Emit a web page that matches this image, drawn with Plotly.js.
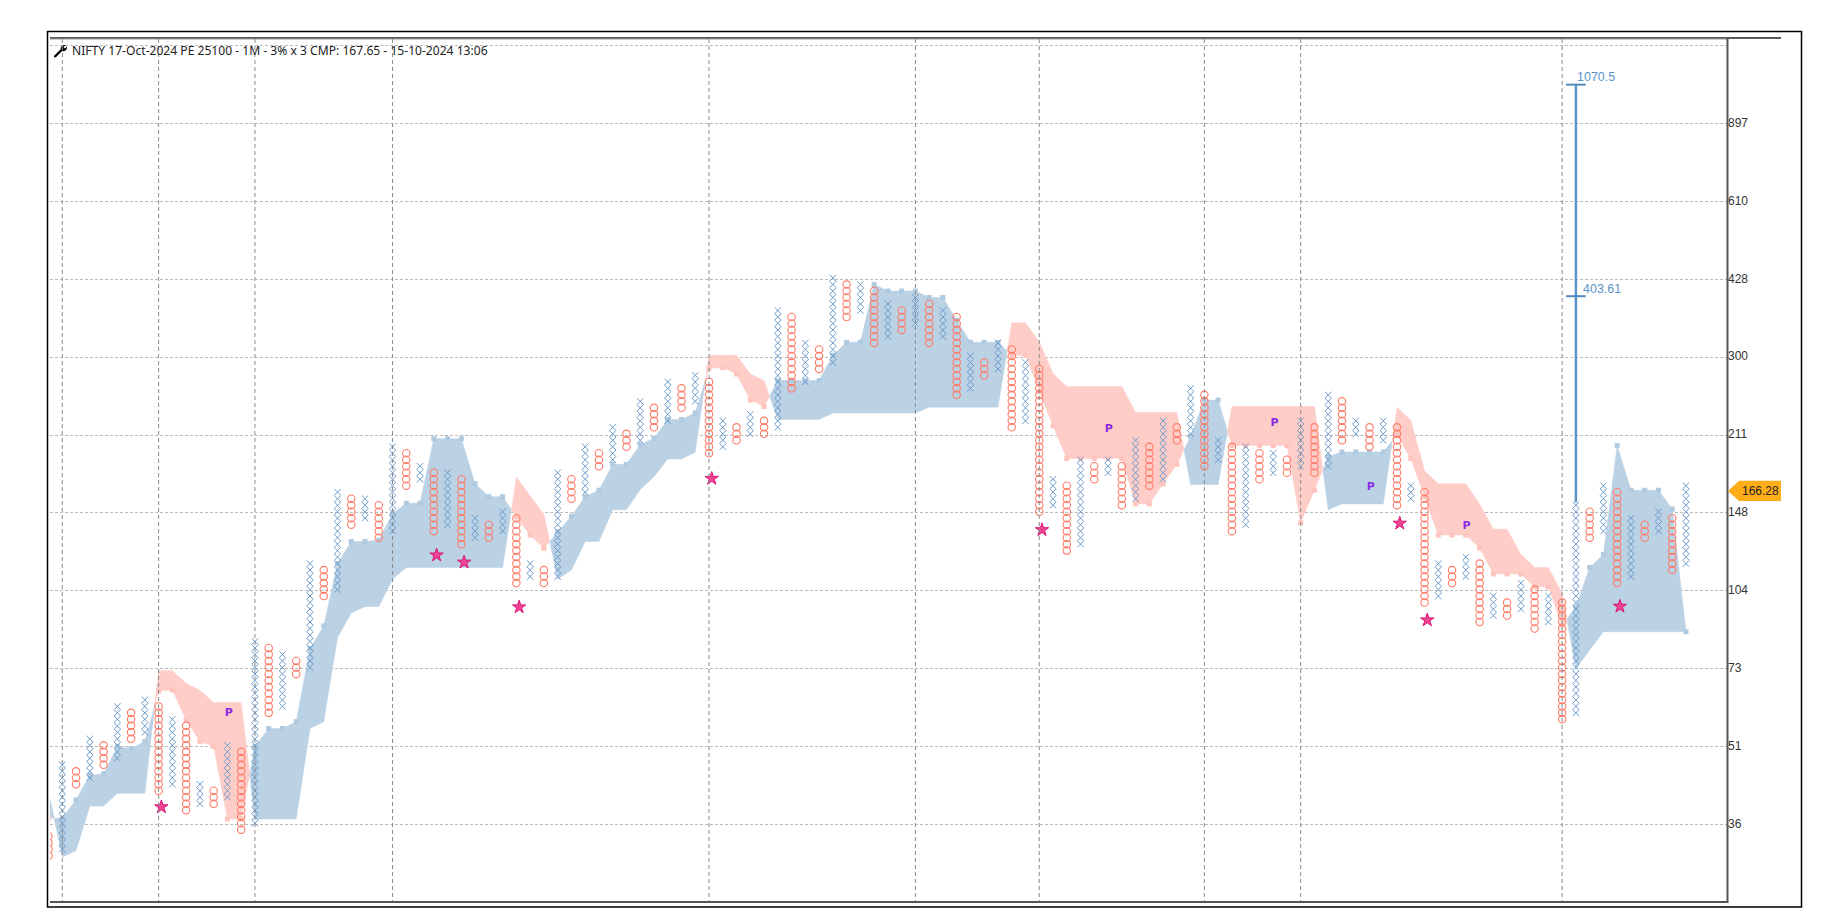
<!DOCTYPE html>
<html><head><meta charset="utf-8"><script src="https://cdn.plot.ly/plotly-3.0.1.min.js"></script>
<style>html,body{margin:0;padding:0;background:#fff}#c{width:1827px;height:921px}</style></head>
<body><div id="c"></div><script>
const titleText='NIFTY 17-Oct-2024 PE 25100 - 1M - 3% x 3 CMP: 167.65 - 15-10-2024 13:06';
const firstCol=-1;
const colLow=[-5,-4,6,7,9,10,13,14,5,6,2,3,3,4,-1,0,17,18,23,24,35,36,46,47,44,45,52,53,45,46,43,44,44,45,37,38,37,38,50,51,55,56,58,59,61,62,64,65,57,58,59,60,60,61,67,68,70,71,78,79,74,75,76,77,74,75,66,67,69,70,61,62,48,49,42,43,53,54,49,50,52,53,59,60,55,56,45,46,53,54,54,55,54,55,59,60,58,59,49,50,34,35,37,38,31,32,32,33,30,31,16,17,44,45,37,38,44,45,39,40];
const colHigh=[-2,9,8,13,12,18,17,19,18,16,15,6,5,12,11,28,27,26,25,40,39,51,50,50,49,58,57,55,54,54,53,47,46,48,47,40,39,54,53,58,57,61,60,65,64,68,67,69,68,62,61,63,62,79,78,74,73,84,83,83,82,80,79,81,80,79,78,72,71,74,73,71,70,53,52,56,55,56,55,59,58,62,61,67,66,59,58,58,57,57,56,62,61,66,65,62,61,62,61,52,51,40,39,41,40,35,34,37,36,35,34,49,48,52,51,47,46,48,47,52];
const bandA=[0.8,0.75,3.6,7.4,7.6,11.8,11.5,12.6,20.4,20.5,15.9,12.6,11.8,0.65,0.65,11.8,14.6,14.6,15.65,26.9,30.4,40,43.4,43.4,43.6,47.7,49.3,49.3,59.25,59.25,59.25,52.3,50.3,50.3,47.2,44.4,42.35,44.9,47.3,50.3,51.3,55.3,55.3,58.3,59.3,62.2,62.2,63.2,70.1,70.2,69.2,65.2,64.2,68.2,68.2,68.2,68.2,72.1,74.1,74.1,83,82,82,82,81,81,77.5,74.1,74.1,74.1,72.1,72.1,66.5,61.2,56.2,56.2,56.2,56.2,56.2,49.2,49.2,52.3,55.3,59.6,65.2,65.2,58.2,58.2,58.2,58.2,58.2,46.3,51.3,56.5,57.2,57.2,57.2,57.2,59.8,56.2,50.3,44.4,44.4,44.4,42.4,38.4,38.4,38.4,36.4,36.4,30.5,33.3,39.4,41.4,58.2,51.3,51.3,51.3,48.4,29.5];
const bandB=[4.9,-5.25,-4.2,2.65,2.65,4.6,4.6,4.6,23.5,23.5,21.55,20.5,18.6,18.6,18.6,0.65,0.65,0.65,0.65,14.6,15.65,28.6,32.4,33.4,33.4,37.6,39.4,39.4,39.4,39.4,39.4,39.4,39.4,39.4,53.3,50.4,47.6,37.6,39,43.4,43.4,48.3,48.3,51.4,53.4,56.1,56.1,57.2,72.1,72.1,72.1,69.2,68.2,62.2,62.2,62.2,62.2,63.2,63.2,63.2,63.2,63.2,63.2,63.2,64.1,64.1,64.1,64.1,64.1,64.1,77.1,77.1,74.2,69.3,67.3,67.3,67.3,67.3,67.3,63.3,63.3,63.3,63.3,52.2,52.2,52.2,64.2,64.2,64.2,64.2,64.2,64.2,64.2,48.3,49.2,49.2,49.2,49.2,64.1,62.1,54.3,52.3,52.3,52.3,49.2,45.3,45.3,41.4,39.4,39.4,35.4,23.8,26.7,29.5,29.5,29.5,29.5,29.5,29.5,29.5];
const starCols=[7.2,27.2,29.2,33.2,47.2,71.2,97.2,99.2,113.2];
const starRows=[2.5,41.3,40.2,33.3,53.1,45.2,46.2,31.3,33.4];
const pCols=[12.1,76.05,88.1,95.1,102.05];
const pRows=[16.9,60.7,61.7,51.8,45.8];
const tickRows=[-0.2,11.8,23.8,35.8,47.8,59.8,71.8,83.8,95.8,107.8,119.8];
const tickLabels=['36','51','73','104','148','211','300','428','610','897',''];
const dateCols=[0,7,14,24,47,62,71,83,90,109];
const measureCol=110, measureBaseRow=49.4;
const targetRows=[81.2,113.8], targetLabels=['403.61','1070.5'];
const cmpRow=51.2, cmpLabel='166.28';

const L=50,R=1727,T=39,B=901;
const px=x=>(x-L)/(R-L), py=y=>1-(y-T)/(B-T);
const BLUE='rgb(187,209,228)',PINK='rgb(255,205,200)';

// expand columns to boxes
const xX=[],xY=[],oX=[],oY=[];
colLow.forEach((lo,i)=>{const c=firstCol+i,isO=(c%2!==0);
  for(let r=lo;r<=colHigh[i];r++){(isO?oX:xX).push(c);(isO?oY:xY).push(r);}});

// cloud polygons split where the two spans cross
const isUp=i=>bandA[i]>=bandB[i];
const runs=[];let cur={x:[firstCol],a:[bandA[0]],b:[bandB[0]],up:isUp(0)};
for(let i=1;i<bandA.length;i++){const c=firstCol+i,up=isUp(i);
  if(up!==cur.up){const d0=bandA[i-1]-bandB[i-1],d1=bandA[i]-bandB[i],t=d0/(d0-d1);
    const cx=c-1+t,cy=bandA[i-1]+t*(bandA[i]-bandA[i-1]);
    cur.x.push(cx);cur.a.push(cy);cur.b.push(cy);runs.push(cur);
    cur={x:[cx],a:[cy],b:[cy],up:up};}
  cur.x.push(c);cur.a.push(bandA[i]);cur.b.push(bandB[i]);}
runs.push(cur);
runs[0].up=true;
const poly={true:{x:[],y:[]},false:{x:[],y:[]}};
runs.forEach(r=>{const p=poly[r.up];
  p.x.push(...r.x,...r.x.slice().reverse(),null);
  p.y.push(...r.a,...r.b.slice().reverse(),null);});
const sqB={x:[],y:[]},sqP={x:[],y:[]};
bandA.forEach((v,i)=>{const s=isUp(i)?sqB:sqP;s.x.push(firstCol+i);s.y.push(v);});

const traces=[
 {x:poly.true.x,y:poly.true.y,mode:'lines',fill:'toself',fillcolor:BLUE,line:{width:0.5,color:BLUE},name:'Cloud up'},
 {x:poly.false.x,y:poly.false.y,mode:'lines',fill:'toself',fillcolor:PINK,line:{width:0.5,color:PINK},name:'Cloud down'},
 {x:sqB.x,y:sqB.y,mode:'markers',marker:{symbol:'square',size:5,color:'rgb(176,202,224)'},name:'Span up'},
 {x:sqP.x,y:sqP.y,mode:'markers',marker:{symbol:'square',size:5,color:'rgb(255,196,190)'},name:'Span down'},
 {x:xX,y:xY,mode:'markers',marker:{symbol:'x-thin-open',size:6.4,color:'#6a9bcb',line:{width:1}},name:'X'},
 {x:oX,y:oY,mode:'markers',marker:{symbol:'circle-open',size:7.4,color:'#ff7a66',line:{width:1.1}},name:'O'},
 {x:starCols,y:starRows,mode:'markers',marker:{symbol:'star',size:10,color:'#f0468f',line:{width:1,color:'#d9147a'}},name:'Signal'},
 {x:pCols,y:pRows,mode:'text',text:pCols.map(()=> 'P'),textposition:'middle center',textfont:{family:'DejaVu Sans',size:11,color:'#8a2be2',weight:700},name:'Pattern'},
 {x:[measureCol,measureCol],y:[measureBaseRow,targetRows[1]],mode:'lines',line:{width:2.5,color:'#5b94c9'},name:'Target'},
 {x:targetRows.map(()=>measureCol),y:targetRows,mode:'markers',marker:{symbol:'line-ew-open',size:14,color:'#4f8abf',line:{width:2}},name:'Targets'}
];
traces.forEach(t=>{t.showlegend=false;t.hoverinfo='skip';});

const wrench='data:image/svg+xml;utf8,'+encodeURIComponent('<svg xmlns="http://www.w3.org/2000/svg" width="14" height="14" viewBox="0 0 14 14"><path d="M1 13 L8 6" stroke="black" stroke-width="2.4" stroke-linecap="round"/><path d="M6.5 5 C7 2.5 9 1 12 1.5 L9.5 3.5 L11 5 L13 3 C13.5 6 11 8.5 8.5 7.5 Z" fill="black"/></svg>');

const shapes=dateCols.map(c=>({type:'line',layer:'above',xref:'x',yref:'paper',x0:c,x1:c,y0:1,y1:0,line:{color:'#8a8a8a',width:1,dash:'4px,3px'}}));
shapes.push(
 {type:'rect',xref:'paper',yref:'paper',x0:px(47.5),x1:px(1801.5),y0:py(907),y1:py(31.5),line:{color:'#000',width:1.5},layer:'above'},
 {type:'line',xref:'paper',yref:'paper',x0:px(50),x1:px(1781),y0:py(38),y1:py(38),line:{color:'#222',width:1.5},layer:'above'},
 {type:'line',xref:'paper',yref:'paper',x0:px(50),x1:px(1727),y0:py(39),y1:py(39),line:{color:'#999',width:1},layer:'above'},
 {type:'line',xref:'paper',yref:'paper',x0:px(50),x1:px(1728),y0:py(902),y1:py(902),line:{color:'#555',width:2},layer:'above'},
 {type:'line',xref:'paper',yref:'paper',x0:px(1727.5),x1:px(1727.5),y0:py(38),y1:py(903),line:{color:'#555',width:2},layer:'above'},
 {type:'path',xref:'paper',yref:'y',layer:'above',fillcolor:'#ffae1a',line:{width:0},
  path:`M ${px(1728)} ${cmpRow} L ${px(1739)} ${cmpRow+1.55} L ${px(1781)} ${cmpRow+1.55} L ${px(1781)} ${cmpRow-1.55} L ${px(1739)} ${cmpRow-1.55} Z`}
);

const annotations=[
 {xref:'x',yref:'y',x:measureCol,y:targetRows[1],xanchor:'left',yanchor:'bottom',xshift:-1,yshift:-1,text:targetLabels[1],showarrow:false,font:{family:'Liberation Sans',size:12.5,color:'#5b94c9'}},
 {xref:'x',yref:'y',x:measureCol,y:targetRows[0],xanchor:'left',yanchor:'bottom',xshift:5,yshift:-2,text:targetLabels[0],showarrow:false,font:{family:'Liberation Sans',size:12.5,color:'#5b94c9'}},
 {xref:'paper',yref:'y',x:px(1760),y:cmpRow,xanchor:'center',yanchor:'middle',text:cmpLabel,showarrow:false,font:{family:'Liberation Sans',size:12,color:'#222'}}
];

const layout={
 width:1827,height:921,paper_bgcolor:'#fff',plot_bgcolor:'#fff',showlegend:false,
 margin:{l:L,r:1827-R,t:T,b:921-B,pad:0},
 title:{text:titleText,x:72/1827,xref:'container',xanchor:'left',y:1-51/921,yref:'container',yanchor:'middle',font:{family:'Noto Sans',size:12.1,color:'#222'}},
 xaxis:{type:'linear',range:[(L-62.3)/13.76,(R-62.3)/13.76],showgrid:false,zeroline:false,showticklabels:false,ticks:'',showline:false},
 yaxis:{type:'linear',side:'right',range:[(823.2-B)/6.49,(823.2-T)/6.49],tickmode:'array',tickvals:tickRows,ticktext:tickLabels,
  showgrid:true,gridcolor:'#bbbbbb',griddash:'3px,2px',gridwidth:1,zeroline:false,showline:false,ticks:'',ticklabelshift:-1,
  tickfont:{family:'Liberation Sans',size:12,color:'#333'}},
 shapes:shapes,annotations:annotations,
 images:[{source:wrench,xref:'paper',yref:'paper',x:px(54),y:py(43.5),sizex:14/(R-L),sizey:14/(B-T),xanchor:'left',yanchor:'top',layer:'above'}]
};
Plotly.newPlot('c',traces,layout,{displayModeBar:false,staticPlot:true});
</script></body></html>
